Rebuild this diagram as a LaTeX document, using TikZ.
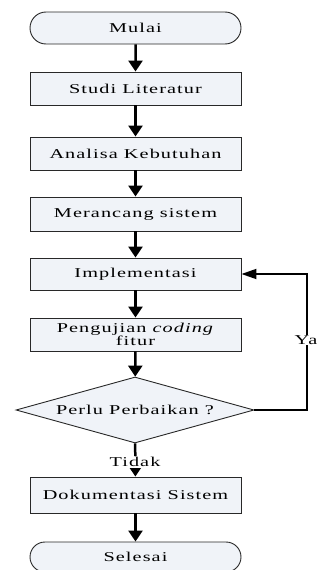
\documentclass[tikz,border=0pt]{standalone}
\usepackage{fontspec}
\newfontfamily\reffont[FakeStretch=1.5,LetterSpace=8]{Liberation Serif}
\usetikzlibrary{shapes.geometric,shapes.misc,arrows.meta}
\definecolor{boxfill}{RGB}{240,243,248}
\definecolor{boxline}{RGB}{40,40,40}
\tikzset{
  txt/.style={font=\reffont\fontsize{13.5}{12}\selectfont},
  proc/.style={txt,draw=boxline,line width=0.9pt,fill=boxfill,minimum width=211pt,inner sep=0pt,align=center},
  term/.style={proc,rounded rectangle},
  decis/.style={txt,draw=boxline,line width=0.9pt,fill=boxfill,diamond,aspect=3.6,inner sep=0pt,
    minimum width=238pt,minimum height=66pt},
  lbl/.style={txt,fill=white,inner sep=1pt},
  flow/.style={line width=2.5pt,-{Triangle[width=14pt,length=11pt]}},
  back/.style={line width=1.8pt,-{Triangle[width=10pt,length=15pt]}}
}
\begin{document}
\begin{tikzpicture}[x=1pt,y=-1pt]
\useasboundingbox (0,0) rectangle (323,570);
\node[term,minimum height=32pt] (mulai) at (135.5,28) {Mulai};
\node[proc,minimum height=33pt] (studi) at (135.5,88.5) {Studi Literatur};
\node[proc,minimum height=33pt] (analisa) at (135.5,153.5) {Analisa Kebutuhan};
\node[proc,minimum height=34pt] (rancang) at (135.5,214) {Merancang sistem};
\node[proc,minimum height=32pt] (impl) at (135.5,274) {Implementasi};
\node[proc,minimum height=33pt] (uji) at (135.5,334.5) {Pengujian \textit{coding}\\fitur};
\node[decis] (dec) at (135,410) {Perlu Perbaikan ?};
\node[proc,minimum height=36pt] (doc) at (135.5,495) {Dokumentasi Sistem};
\node[term,minimum height=30pt] (selesai) at (135.5,557) {Selesai};
\coordinate (c1) at (307,410);
\coordinate (c2) at (307,274);
\draw[flow] (mulai) -- (studi);
\draw[flow] (studi) -- (analisa);
\draw[flow] (analisa) -- (rancang);
\draw[flow] (rancang) -- (impl);
\draw[flow] (impl) -- (uji);
\draw[flow] (uji) -- (dec);
\draw[flow] (dec) -- (doc);
\draw[flow] (doc) -- (selesai);
\draw[back] (dec.east) -- (c1) -- (c2) -- (impl.east);
\node[lbl] (tidak) at (135,462) {Tidak};
\node[lbl] (ya) at (306,340) {Ya};
\end{tikzpicture}
\end{document}
